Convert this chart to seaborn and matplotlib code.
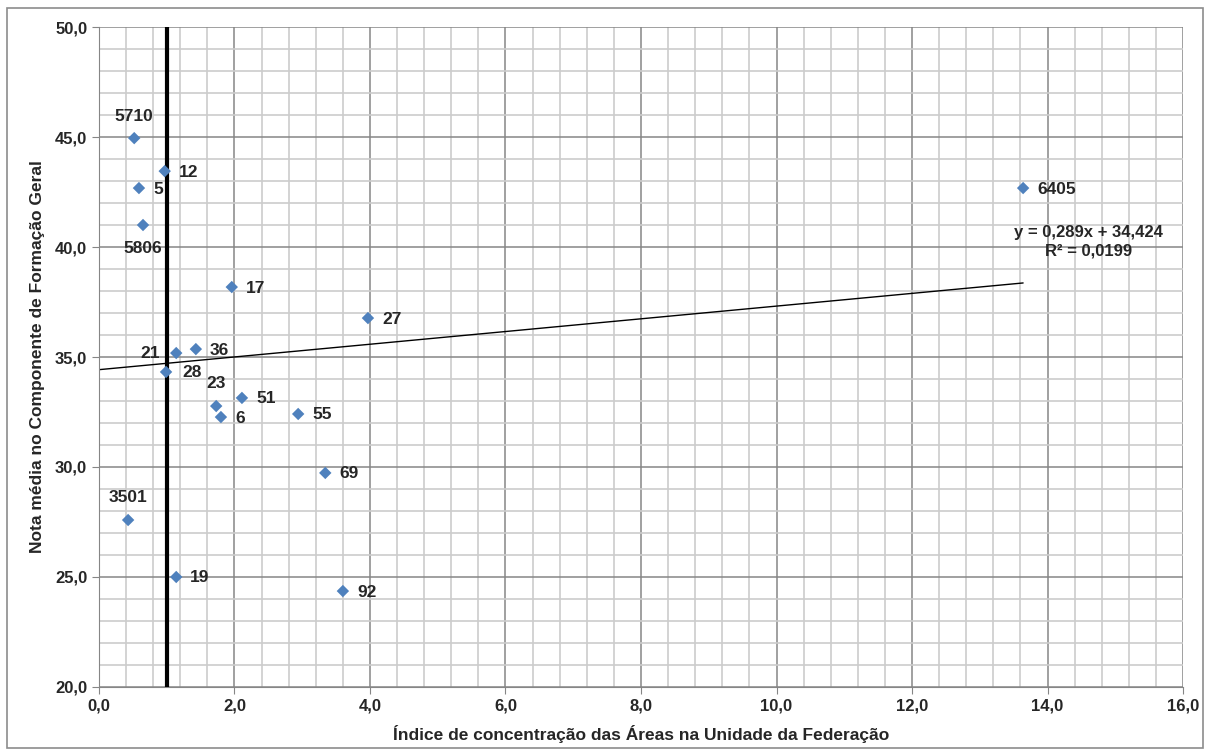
import numpy as np
import pandas as pd
import matplotlib
matplotlib.use("Agg")
import matplotlib.pyplot as plt
import seaborn as sns
from matplotlib.ticker import MultipleLocator, FuncFormatter

# Data
labels = ["5710", "12", "5", "5806", "17", "27", "21", "36", "28", "23",
          "51", "6", "55", "69", "3501", "19", "92", "6405"]
indice = [0.52, 0.97, 0.59, 0.65, 1.96, 3.97, 1.14, 1.43, 0.99, 1.73,
          2.11, 1.80, 2.94, 3.34, 0.43, 1.14, 3.60, 13.64]
nota = [44.95, 43.45, 42.68, 41.00, 38.18, 36.77, 35.18, 35.36, 34.32, 32.77,
        33.14, 32.27, 32.41, 29.73, 27.59, 25.00, 24.36, 42.68]

# label placement: offset in pixels (dx, dy) and alignment
placement = {"5710": (0, 22, "center"), "5806": (0, -23, "center"),
             "3501": (0, 23, "center"), "23": (0, 23, "center"),
             "21": (-16, 0, "right"), "28": (16, -1, "left")}

slope = 0.289
intercept = 34.424

df = pd.DataFrame({"label": labels, "x": indice, "y": nota})

sns.set_style("white")
plt.rcParams["font.family"] = ["Liberation Sans", "DejaVu Sans"]

fig = plt.figure(figsize=(12.1, 7.55), dpi=100)
ax = fig.add_axes([0.0818, 0.0901, 0.8959, 0.8741])

# grid
ax.xaxis.set_major_locator(MultipleLocator(2))
ax.xaxis.set_minor_locator(MultipleLocator(0.4))
ax.yaxis.set_major_locator(MultipleLocator(5))
ax.yaxis.set_minor_locator(MultipleLocator(1))
ax.grid(which="minor", color="#cccccc", linewidth=1.2)
ax.grid(which="major", color="#868686", linewidth=1.1)
ax.set_axisbelow(True)

# trend line
tx = np.array([0, max(indice)])
sns.lineplot(x=tx, y=slope * tx + intercept, color="black", linewidth=1, ax=ax)

# reference line at 1.0
ax.axvline(1.0, color="black", linewidth=3, zorder=3)

sns.scatterplot(data=df, x="x", y="y", marker="D", s=40, color="#4F81BD",
                edgecolor="none", ax=ax, zorder=4)

for lab, x, y in zip(labels, indice, nota):
    dx, dy, ha = placement.get(lab, (14, -1, "left"))
    ax.annotate(lab, (x, y), xytext=(dx, dy), textcoords="offset pixels",
                ha=ha, va="center", fontsize=12.5, fontweight="bold")

ax.text(14.6, 40.68, "y = 0,289x + 34,424", ha="center", va="center",
        fontsize=12, fontweight="bold")
ax.text(14.6, 39.82, "R\u00b2 = 0,0199", ha="center", va="center",
        fontsize=12, fontweight="bold")

ax.set_xlim(0, 16)
ax.set_ylim(20, 50)
fmt = FuncFormatter(lambda v, p: f"{v:.1f}".replace(".", ","))
ax.xaxis.set_major_formatter(fmt)
ax.yaxis.set_major_formatter(fmt)
ax.tick_params(axis="both", which="major", labelsize=12, length=5,
               color="#868686", direction="out", bottom=True, left=True)
ax.tick_params(which="minor", length=0)
for t in ax.get_xticklabels() + ax.get_yticklabels():
    t.set_fontweight("bold")

for s in ["top", "right"]:
    ax.spines[s].set_visible(False)
for s in ["left", "bottom"]:
    ax.spines[s].set_color("#868686")

ax.set_xlabel("Índice de concentração das Áreas na Unidade da Federação",
              fontsize=12.5, fontweight="bold", labelpad=8)
ax.set_ylabel("Nota média no Componente de Formação Geral",
              fontsize=12.5, fontweight="bold", labelpad=7)

# outer border
fig.patches.append(plt.Rectangle((0.006, 0.009), 0.988, 0.980,
                                 transform=fig.transFigure, fill=False,
                                 edgecolor="#8c8c8c", linewidth=1.2))

plt.savefig("out.png", dpi=100)
